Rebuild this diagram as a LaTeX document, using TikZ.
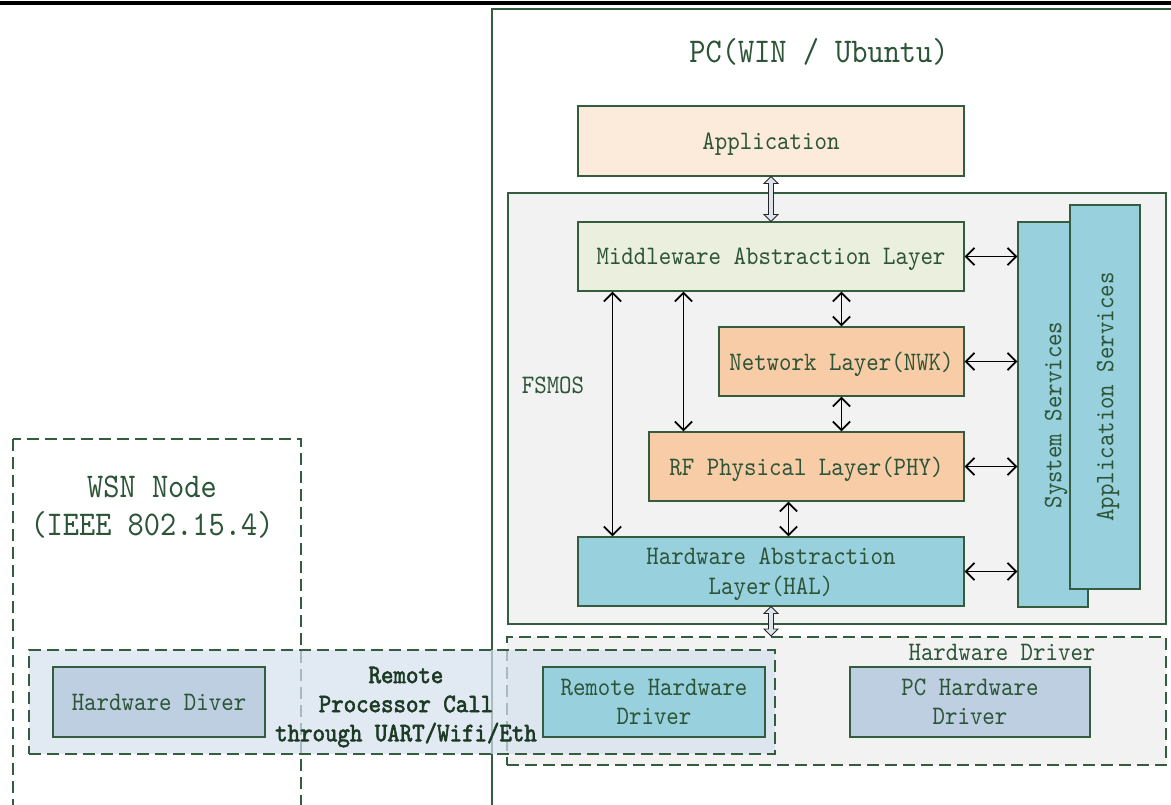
\documentclass[tikz,border=0pt]{standalone}
\usepackage{fontspec}
\newfontfamily\labf{lmmono10-regular.otf}[FakeStretch=0.89]
\newfontfamily\labfb{lmmono10-regular.otf}[FakeStretch=0.89,FakeBold=2.2]
\usetikzlibrary{arrows.meta,calc}
\definecolor{tx}{RGB}{44,84,54}
\definecolor{txb}{RGB}{28,58,36}
\definecolor{bd}{RGB}{52,92,62}
\definecolor{appfill}{RGB}{252,234,219}
\definecolor{midfill}{RGB}{235,239,221}
\definecolor{orfill}{RGB}{249,204,168}
\definecolor{blfill}{RGB}{152,208,221}
\definecolor{gbfill}{RGB}{189,207,225}
\definecolor{grfill}{RGB}{242,242,242}
\definecolor{remfill}{RGB}{214,225,238}
\definecolor{holfill}{RGB}{220,228,238}
\tikzset{
  box/.style={draw=bd, line width=0.8pt, text=tx, align=center, inner sep=0pt, text depth=0pt,
    font={\labf\fontsize{20}{22}\selectfont}},
  plain/.style={text=tx, align=center, inner sep=0pt, text depth=0pt,
    font={\labf\fontsize{20}{22}\selectfont}},
  biarrow/.style={{Straight Barb[length=6.5pt,width=13pt]}-{Straight Barb[length=6.5pt,width=13pt]}, line width=1.4pt, black},
  hol/.style={draw=black!85, fill=holfill, line width=0.6pt, line join=miter},
  dashbox/.style={draw=bd, line width=1.5pt, dash pattern=on 9pt off 4.5pt},
}
\begin{document}
\begin{tikzpicture}[x=0.75pt,y=-0.75pt]
\useasboundingbox (0,0) rectangle (1171,805);
\clip (0,0) rectangle (1171,805);
% top rule
\draw[line width=2.3pt, black] (0,3) -- (1171,3);
% PC frame
\draw[bd, line width=1.3pt] (492,9) rectangle (1185,820);
\node[plain, font={\labf\fontsize{26}{28}\selectfont}] (pct) at (819,50) {PC(WIN / Ubuntu)};
% WSN frame
\draw[dashbox] (13,439) rectangle (301,830);
\node[plain, font={\labf\fontsize{26}{28.5}\selectfont}] (wsnt) at (152,506) {WSN Node\\(IEEE 802.15.4)};
% FSMOS
\node[draw=bd, line width=1.3pt, fill=grfill, minimum width=658*0.75pt, minimum height=431*0.75pt, inner sep=0pt] (fsmos) at (837,408.5) {};
\node[plain] (fsmost) at (553,385) {FSMOS};
% layers
\node[box, fill=appfill, minimum width=386*0.75pt, minimum height=70*0.75pt] (app) at (771,141) {Application};
\node[box, fill=midfill, minimum width=386*0.75pt, minimum height=69*0.75pt] (mid) at (771,256.5) {Middleware Abstraction Layer};
\node[box, fill=orfill, minimum width=245*0.75pt, minimum height=69*0.75pt] (nwk) at (841.5,361.5) {Network Layer(NWK)};
\node[box, fill=orfill, minimum width=315*0.75pt, minimum height=69*0.75pt] (phy) at (806.5,466.5) {RF Physical Layer(PHY)};
\node[box, fill=blfill, minimum width=386*0.75pt, minimum height=69*0.75pt, font={\labf\fontsize{20}{22.5}\selectfont}] (hal) at (771,571.5) {Hardware Abstraction\\Layer(HAL)};
% services
\node[box, fill=blfill, minimum width=70*0.75pt, minimum height=385*0.75pt] (sys) at (1053,414.5) {};
\node[plain, rotate=90] (syst) at (1053,415) {System Services};
\node[box, fill=blfill, minimum width=70*0.75pt, minimum height=384*0.75pt] (aps) at (1105,397) {};
\node[plain, rotate=90] (apst) at (1105,397) {Application Services};
% arrows inside FSMOS
\draw[biarrow] ($(mid.south west)+(35,0)$) -- ($(hal.north west)+(35,0)$);
\draw[biarrow] ($(mid.south west)+(106,0)$) -- ($(phy.north west)+(35,0)$);
\draw[biarrow] (nwk.north |- mid.south) -- (nwk.north);
\draw[biarrow] (nwk.south) -- (nwk.south |- phy.north);
\draw[biarrow] ($(phy.south west)+(140,0)$) -- ($(hal.north west)+(211,0)$);
\draw[biarrow] (mid.east) -- (mid.east -| sys.west);
\draw[biarrow] (nwk.east) -- (nwk.east -| sys.west);
\draw[biarrow] (phy.east) -- (phy.east -| sys.west);
\draw[biarrow] (hal.east) -- (hal.east -| sys.west);
% hollow arrow app <-> mid
\draw[hol] (app.south) -- ++(7,7) -- ++(-4.5,0) -- ($(mid.north)+(2.5,-7)$) -- ++(4.5,0) -- (mid.north) -- ++(-7,-7) -- ++(4.5,0) -- ($(app.south)+(-2.5,7)$) -- ++(-4.5,0) -- cycle;
% Hardware driver region
\node[dashbox, fill=grfill, minimum width=659*0.75pt, minimum height=128*0.75pt, inner sep=0pt] (hwdrv) at (836.5,701) {};
\node[plain] (hwdrvt) at (1002,652) {Hardware Driver};
\coordinate (halb) at (hal.south |- hwdrv.north);
\draw[hol] (hal.south) -- ++(7,7) -- ++(-4.5,0) -- ($(halb)+(2.5,-7)$) -- ++(4.5,0) -- (halb) -- ++(-7,-7) -- ++(4.5,0) -- ($(hal.south)+(-2.5,7)$) -- ++(-4.5,0) -- cycle;
% remote translucent box
\node[dashbox, fill=remfill, fill opacity=0.72, minimum width=746*0.75pt, minimum height=104*0.75pt, inner sep=0pt] (remote) at (402,702) {};
\node[box, fill=gbfill, minimum width=212*0.75pt, minimum height=70*0.75pt] (hwdiver) at (159,702) {Hardware Diver};
\node[box, fill=blfill, minimum width=222*0.75pt, minimum height=70*0.75pt, font={\labf\fontsize{20}{22}\selectfont}] (rhw) at (654,702) {Remote Hardware\\Driver};
\node[box, fill=gbfill, minimum width=240*0.75pt, minimum height=70*0.75pt, font={\labf\fontsize{20}{22}\selectfont}] (pchw) at (970,702) {PC Hardware\\Driver};
\node[plain, text=txb, font={\labfb\fontsize{20}{21.8}\selectfont}] (rpc) at (406,704) {Remote\\Processor Call\\through UART/Wifi/Eth};
\end{tikzpicture}
\end{document}
